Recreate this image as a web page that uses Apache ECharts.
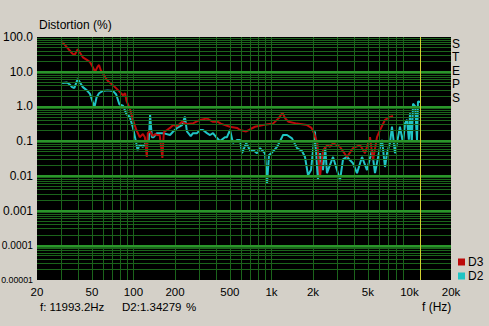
<!DOCTYPE html>
<html>
<head>
<meta charset="utf-8">
<script src="https://cdn.jsdelivr.net/npm/echarts@6/dist/echarts.min.js"></script>
<style>
html,body{margin:0;padding:0;background:#d4d0c8;}
#c{width:489px;height:326px;}
</style>
</head>
<body>
<div id="c"></div>
<script>
// ---- data (frequency Hz, distortion %) ----
const d3Data = [[30.4,72],[33,50],[35.9,34],[37.3,30],[39.5,44],[43,26],[46,22],[48.4,19],[51,13],[52.7,10],[55,14],[56.3,15.6],[58,11],[60,9],[63,6.5],[65,5.5],[71,4.1],[77,3.0],[84,2.1],[87,2.4],[89,1.45],[94,0.88],[99,0.42],[105,0.21],[111,0.13],[117,0.16],[121,0.13],[125,0.035],[127,0.17],[132,0.19],[138,0.14],[144,0.16],[148,0.15],[155,0.15],[162,0.033],[166,0.18],[175,0.21],[184,0.24],[194,0.29],[207,0.27],[225,0.36],[244,0.31],[272,0.33],[303,0.41],[341,0.45],[377,0.36],[403,0.37],[430,0.32],[460,0.29],[501,0.26],[563,0.24],[592,0.21],[656,0.19],[700,0.22],[760,0.26],[869,0.29],[1026,0.32],[1130,0.46],[1200,0.66],[1260,0.45],[1330,0.36],[1530,0.32],[1810,0.29],[1950,0.24],[2030,0.17],[2150,0.088],[2247,0.0093],[2362,0.055],[2540,0.077],[2655,0.068],[2793,0.088],[3139,0.068],[3527,0.035],[3899,0.063],[4382,0.077],[4764,0.045],[5177,0.13],[5443,0.0285],[5820,0.13],[6123,0.21],[6651,0.41],[7227,0.5],[7600,0.53]];
const d2Data = [[30.4,4.7],[33,4.9],[34.5,4.3],[35.9,3.6],[37.3,3.4],[39.5,6.2],[43,3.6],[46,2.9],[48.4,2.3],[50.5,1.4],[52.2,0.96],[54,1.8],[56.3,2.4],[60,2.8],[65,2.9],[71,2.8],[75,2.2],[79,1.15],[84,1.05],[89,0.6],[94,0.5],[99,0.25],[105,0.085],[107,0.055],[111,0.08],[117,0.068],[125,0.1],[129,0.1],[132,0.56],[136,0.13],[140,0.13],[148,0.17],[157,0.17],[164,0.17],[184,0.15],[194,0.19],[207,0.24],[225,0.29],[236,0.51],[244,0.19],[260,0.14],[270,0.17],[289,0.17],[303,0.21],[319,0.21],[341,0.17],[359,0.15],[377,0.17],[403,0.123],[424,0.1],[460,0.13],[476,0.13],[501,0.21],[526,0.088],[563,0.108],[592,0.108],[612,0.045],[656,0.088],[699,0.055],[740,0.055],[785,0.045],[826,0.063],[898,0.045],[929,0.0062],[960,0.04],[1000,0.045],[1097,0.068],[1192,0.13],[1213,0.15],[1297,0.15],[1409,0.12],[1532,0.063],[1665,0.052],[1750,0.035],[1840,0.0105],[1935,0.0147],[2066,0.19],[2138,0.018],[2174,0.0076],[2247,0.045],[2362,0.0147],[2450,0.068],[2526,0.012],[2793,0.035],[3139,0.0076],[3300,0.03],[3527,0.035],[3899,0.023],[4168,0.012],[4530,0.035],[4922,0.0147],[5355,0.055],[5628,0.012],[6123,0.068],[6325,0.108],[6651,0.018],[6874,0.045],[7227,0.088],[7469,0.26],[7853,0.045],[8122,0.088],[8532,0.26],[8977,0.088],[9300,0.33],[9598,0.41],[9900,0.11],[10090,0.63],[10400,0.09],[10610,1.2],[11000,1.0],[11340,0.108],[11530,1.38],[11993,1.34]];

const xTicks = [20,50,100,200,500,1000,2000,5000,10000,20000];
const xTickLabels = ['20','50','100','200','500','1k','2k','5k','10k','20k'];
const yTicks = [0.00001,0.0001,0.001,0.01,0.1,1,10,100];
const yTickLabels = ['0.00001','0.0001','0.001','0.01','0.1','1.0','10.0','100.0'];
const cursorFreq = 11993.2;
const cursorText = 'f: 11993.2Hz';
const readoutText = 'D2:1.34279';

// grid line positions
const xGrid = [];
[10,100,1000].forEach(d => { for (let k = 1; k <= 9; k++) { const v = k*d; if (v > 20 && v < 20000) xGrid.push(v); } });
const yMinor = [], yMajor = [];
[0.00001,0.0001,0.001,0.01,0.1,1,10].forEach(d => { for (let k = 2; k <= 9; k++) yMinor.push(k*d); if (d > 0.00001) yMajor.push(d); });

const FONT = '"Liberation Sans", Arial, sans-serif';
const chart = echarts.init(document.getElementById('c'), null, {renderer:'svg'});

const gridMarks = [];
xGrid.forEach(v => gridMarks.push({xAxis: v, lineStyle:{color:'#1b641b', width:1, type:'solid'}}));
yMinor.forEach(v => gridMarks.push({yAxis: v, lineStyle:{color:'#1b641b', width:1, type:'solid'}}));
yMajor.forEach(v => gridMarks.push({yAxis: v, lineStyle:{color:'#2a962a', width:2, type:'solid'}}));

chart.setOption({
  backgroundColor: '#d4d0c8',
  animation: false,
  textStyle: {fontFamily: FONT},
  grid: {left: 37, top: 37, width: 414, height: 243, show: true, backgroundColor: '#000', borderWidth: 0, containLabel: false, outerBoundsMode: 'none'},
  legend: {
    data: ['D3','D2'], orient: 'vertical', left: 453, top: 251,
    icon: 'rect', itemWidth: 7, itemHeight: 7, itemGap: 2,
    textStyle: {fontSize: 12, color: '#000', fontFamily: FONT, padding:[0,0,0,-2]},
    selectedMode: false
  },
  xAxis: {
    type: 'log', logBase: 10, min: 20, max: 20000,
    axisLine: {show: false}, axisTick: {show: false}, splitLine: {show: false}, minorSplitLine:{show:false},
    axisLabel: {
      customValues: xTicks, margin: 6, color: '#000', fontSize: 11.5, fontFamily: FONT,
      showMinLabel: true, showMaxLabel: true,
      formatter: v => { const i = xTicks.findIndex(t => Math.abs(t - v)/t < 1e-6); return i >= 0 ? xTickLabels[i] : ''; }
    }
  },
  yAxis: {
    type: 'log', logBase: 10, min: 0.00001, max: 100,
    axisLine: {show: false}, axisTick: {show: false}, splitLine: {show: false},
    axisLabel: {
      customValues: yTicks, margin: 4, color: '#000', fontSize: 12, fontFamily: FONT,
      showMinLabel: true, showMaxLabel: true, hideOverlap: false,
      rich: {
        s5: {fontSize: 8.8, fontFamily: FONT, color: '#000'},
        s4: {fontSize: 10.2, fontFamily: FONT, color: '#000'}
      },
      formatter: v => {
        const i = yTicks.findIndex(t => Math.abs(t - v)/t < 1e-6);
        if (i < 0) return '';
        if (i === 0) return '{s5|' + yTickLabels[i] + '}';
        if (i === 1) return '{s4|' + yTickLabels[i] + '}';
        return yTickLabels[i];
      }
    }
  },
  series: [
    {
      name: 'grid', type: 'line', data: [[1000, 1]], z: 1, silent: true,
      showSymbol: false, lineStyle: {opacity: 0}, legendHoverLink: false,
      markLine: {silent: true, symbol: 'none', precision: 12, label: {show: false}, animation: false, data: gridMarks}
    },
    {
      name: 'D2', type: 'line', data: d2Data, z: 3, showSymbol: false,
      color: '#20c4c4', lineStyle: {color: '#20c4c4', width: 2}, itemStyle:{color:'#20c4c4'}
    },
    {
      name: 'D3', type: 'line', data: d3Data, z: 4, showSymbol: false,
      color: '#bc0a0a', lineStyle: {color: '#bc0a0a', width: 2}, itemStyle:{color:'#bc0a0a'},
      markLine: {silent: true, symbol: 'none', precision: 12, label: {show: false}, animation: false,
        lineStyle: {color: '#d0d030', width: 1, type: 'solid', opacity: 1},
        emphasis: {disabled: true},
        data: [{xAxis: cursorFreq, lineStyle: {color: '#d0d030', width: 1, type: 'solid'}}]}
    }
  ],
  graphic: [
    {type:'text', left: 39, top: 19, style:{text:'Distortion (%)', fill:'#000', font:'12px '+FONT}},
    {type:'text', left: 40, top: 301, style:{text: cursorText, fill:'#000', font:'11.5px '+FONT}},
    {type:'text', left: 122, top: 301, style:{text: readoutText, fill:'#000', font:'11.5px '+FONT}},
    {type:'text', left: 186, top: 301, style:{text: '%', fill:'#000', font:'11.5px '+FONT}},
    {type:'text', left: 422, top: 301, style:{text: 'f (Hz)', fill:'#000', font:'12px '+FONT}},
    {type:'text', left: 452, top: 37, style:{text: 'S\nT\nE\nP\nS', fill:'#000', font:'12px '+FONT, lineHeight: 13.5, align:'center'}}
  ]
});
</script>
</body>
</html>
